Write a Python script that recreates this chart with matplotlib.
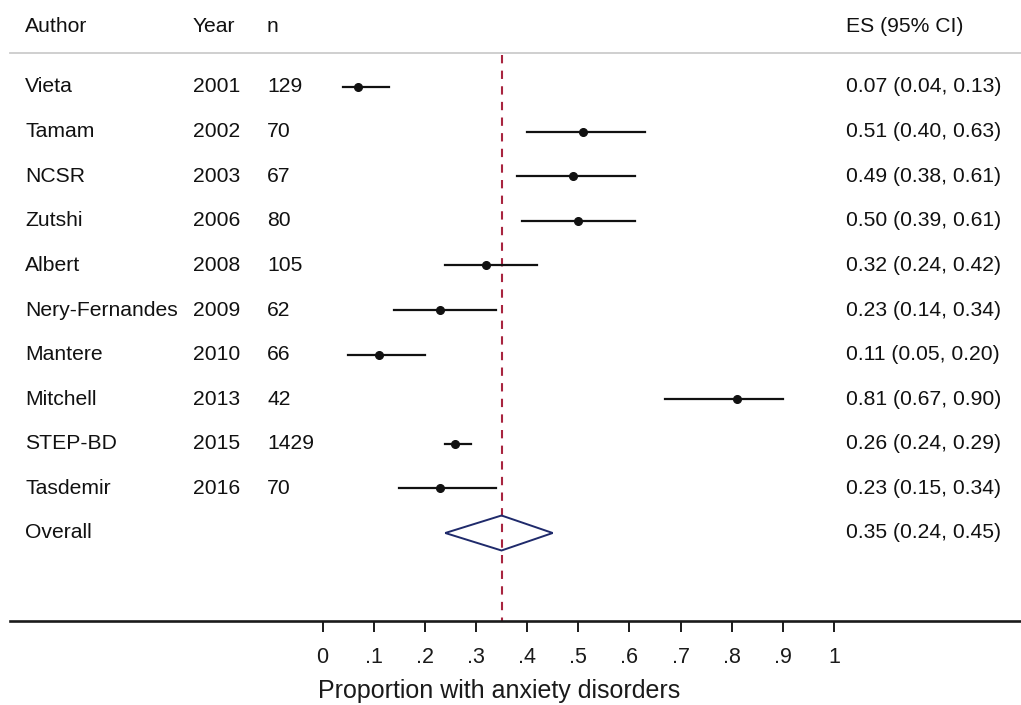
import matplotlib
matplotlib.use("Agg")
import matplotlib.pyplot as plt
from matplotlib.patches import Polygon

plt.rcParams['font.family'] = ['Liberation Sans', 'DejaVu Sans']

authors = ["Vieta", "Tamam", "NCSR", "Zutshi", "Albert", "Nery-Fernandes",
           "Mantere", "Mitchell", "STEP-BD", "Tasdemir"]
years = [2001, 2002, 2003, 2006, 2008, 2009, 2010, 2013, 2015, 2016]
ns = [129, 70, 67, 80, 105, 62, 66, 42, 1429, 70]
es = [0.07, 0.51, 0.49, 0.50, 0.32, 0.23, 0.11, 0.81, 0.26, 0.23]
lo = [0.04, 0.40, 0.38, 0.39, 0.24, 0.14, 0.05, 0.67, 0.24, 0.15]
hi = [0.13, 0.63, 0.61, 0.61, 0.42, 0.34, 0.20, 0.90, 0.29, 0.34]
overall = (0.35, 0.24, 0.45)
xticks = [0, 0.1, 0.2, 0.3, 0.4, 0.5, 0.6, 0.7, 0.8, 0.9, 1.0]
xticklabels = ["0", ".1", ".2", ".3", ".4", ".5", ".6", ".7", ".8", ".9", "1"]

W, H = 1021, 705
fig = plt.figure(figsize=(W / 100, H / 100), dpi=100)

# layout (pixels)
x0_px, x1_px = 322.5, 834.0      # data 0 and 1
ax_left_px = 10
axis_y_px = 621
row0_px, row_step = 87, 44.6

ax = fig.add_axes([ax_left_px / W, (H - axis_y_px) / H,
                   (W - ax_left_px) / W, axis_y_px / H])
scale = x1_px - x0_px
ax.set_xlim((ax_left_px - x0_px) / scale, (W - x0_px) / scale)
ax.set_ylim((axis_y_px - row0_px) / row_step, -row0_px / row_step)

def px2x(px):
    return (px - x0_px) / scale

for s in ["top", "right", "left"]:
    ax.spines[s].set_visible(False)
ax.spines["bottom"].set_linewidth(1.9)
ax.spines["bottom"].set_color("#1a1a1a")
ax.set_yticks([])
ax.set_xticks(xticks)
ax.set_xticklabels(xticklabels)
ax.tick_params(axis="x", direction="out", length=8, width=1.4, pad=11,
               labelsize=15.5, colors="#1a1a1a")
ax.set_xlabel("Proportion with anxiety disorders", fontsize=18, color="#1a1a1a")
ax.xaxis.set_label_coords((499 - ax_left_px) / (W - ax_left_px), -0.094)

txt = dict(fontsize=15.2, color="#111111", va="center", ha="left")
col_author, col_year, col_n, col_es = px2x(25), px2x(193), px2x(267), px2x(846)

header_y = (27 - row0_px) / row_step
ax.text(col_author, header_y, "Author", **txt)
ax.text(col_year, header_y, "Year", **txt)
ax.text(col_n, header_y, "n", **txt)
ax.text(col_es, header_y, "ES (95% CI)", **txt)

line_y = (52.5 - row0_px) / row_step
ax.plot([ax.get_xlim()[0], ax.get_xlim()[1]], [line_y, line_y],
        color="#cccccc", lw=1.3, clip_on=False)

# reference dashed line
top_y = (55 - row0_px) / row_step
ax.plot([overall[0], overall[0]], [top_y, ax.get_ylim()[0]],
        color="#a8243f", lw=1.5, dashes=(4, 3.5), zorder=1)

for i, (a, y, n, e, l, h) in enumerate(zip(authors, years, ns, es, lo, hi)):
    ax.text(col_author, i, a, **txt)
    ax.text(col_year, i, str(y), **txt)
    ax.text(col_n, i, str(n), **txt)
    ax.text(col_es, i, f"{e:.2f} ({l:.2f}, {h:.2f})", **txt)
    ax.plot([l, h], [i, i], color="#111111", lw=1.6, zorder=3)
    ax.plot([e], [i], "o", color="#111111", markersize=5.5, zorder=4)

oi = len(authors)
ax.text(col_author, oi, "Overall", **txt)
ax.text(col_es, oi, f"{overall[0]:.2f} ({overall[1]:.2f}, {overall[2]:.2f})", **txt)
dh = 17.5 / row_step
diamond = Polygon([(overall[1], oi), (overall[0], oi - dh),
                   (overall[2], oi), (overall[0], oi + dh)],
                  closed=True, fill=False, edgecolor="#1f2a6b", lw=1.4, zorder=3)
ax.add_patch(diamond)

fig.savefig("out.png", dpi=100, facecolor="white")
